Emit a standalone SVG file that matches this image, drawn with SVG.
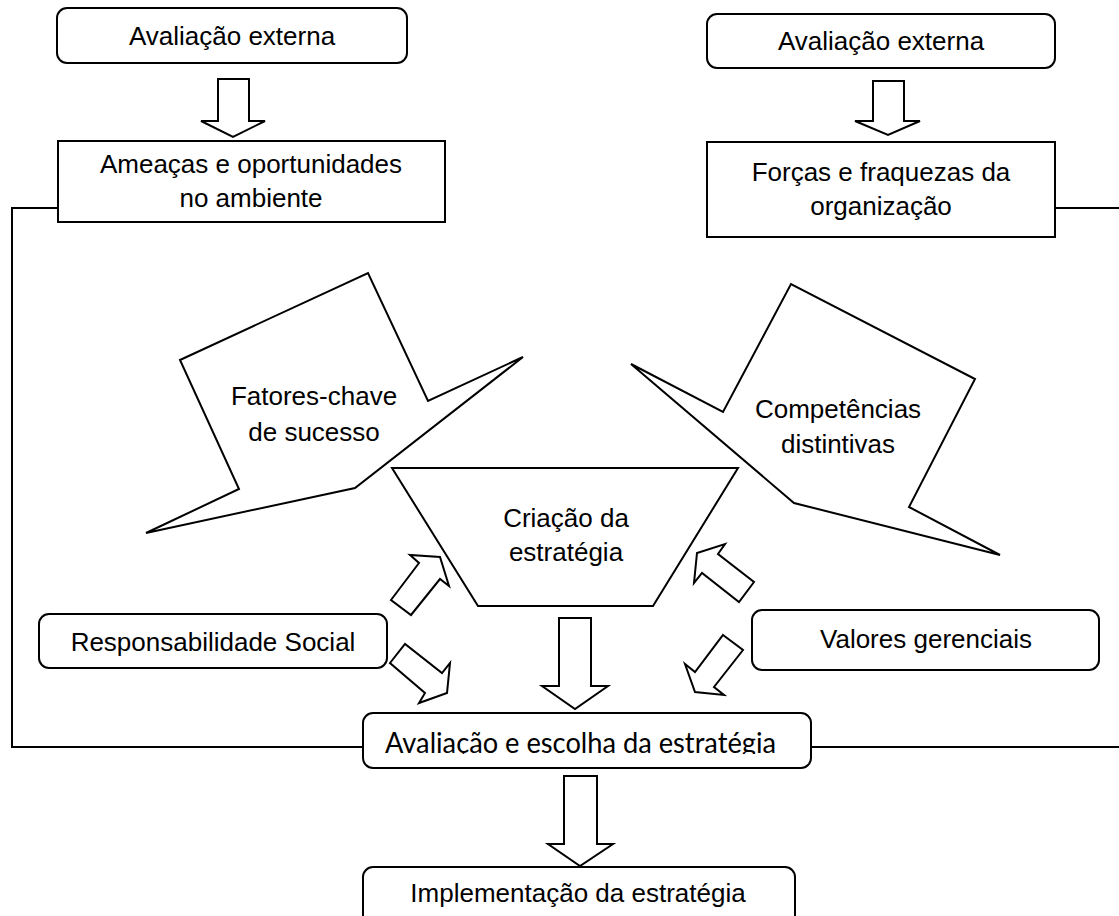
<svg xmlns="http://www.w3.org/2000/svg" width="1119" height="916" viewBox="0 0 1119 916">
<style>
.box{fill:#fff;stroke:#000;stroke-width:2}
.shape{fill:#fff;stroke:#000;stroke-width:2;stroke-linejoin:miter}
.arr{fill:#fff;stroke:#000;stroke-width:2;stroke-linejoin:miter}
.con{fill:none;stroke:#000;stroke-width:2}
.t{font-family:"Liberation Sans",Arial,sans-serif;font-size:26px;text-anchor:middle;fill:#000}
.c{font-family:Lato,"Open Sans",sans-serif;font-size:28px;fill:#000}
</style>
<defs>
<clipPath id="clipEsc"><rect x="363" y="713" width="448" height="41"/></clipPath>
</defs>
<rect width="1119" height="916" fill="#fff"/>
<g id="connectors">
<path class="con" d="M58,208 H12 V747 H363"/>
<path class="con" d="M811,747 H1119"/>
<path class="con" d="M1055,208 H1119"/>
</g>
<g id="aval-ext-left">
<rect class="box" x="57" y="8" width="350" height="55" rx="10"/>
<text class="t" x="232" y="45">Avaliação externa</text>
</g>
<g id="arrow-left-top"><polygon class="arr" points="218,79 249,79 249,121 265,121 233,137 201,121 218,121"/></g>
<g id="ameacas">
<rect class="box" x="58" y="141" width="387" height="81"/>
<text class="t" x="251" y="173">Ameaças e oportunidades</text>
<text class="t" x="251" y="207">no ambiente</text>
</g>
<g id="aval-ext-right">
<rect class="box" x="707" y="14" width="348" height="54" rx="10"/>
<text class="t" x="881" y="50">Avaliação externa</text>
</g>
<g id="arrow-right-top"><polygon class="arr" points="873,81 904,81 904,121 920,121 888,135 855,121 873,121"/></g>
<g id="forcas">
<rect class="box" x="707" y="142" width="348" height="95"/>
<text class="t" x="881" y="181">Forças e fraquezas da</text>
<text class="t" x="881" y="215">organização</text>
</g>
<g id="fatores">
<polygon class="shape" points="180,360 368,273 428,401 523,357 355,488 146,533 239,489"/>
<text class="t" x="314" y="405">Fatores-chave</text>
<text class="t" x="314" y="441">de sucesso</text>
</g>
<g id="competencias">
<polygon class="shape" points="631,364 723,412 791,284 975,379 909,507 1000,555 794,503"/>
<text class="t" x="838" y="418">Competências</text>
<text class="t" x="838" y="453">distintivas</text>
</g>
<g id="criacao">
<polygon class="shape" points="392,468 738,468 653,606 478,606"/>
<text class="t" x="566" y="527">Criação da</text>
<text class="t" x="566" y="561">estratégia</text>
</g>
<g id="arrows-small">
<polygon class="arr" points="391,600 419,563 410,555 440,557 449,586 440,579 411,615"/>
<polygon class="arr" points="390,663 405,644 442,673 450,663 447,693 419,703 425,693"/>
<polygon class="arr" points="754,582 739,602 702,573 694,583 697,553 725,544 718,554"/>
<polygon class="arr" points="723,635 743,650 714,687 724,695 695,692 685,664 695,672"/>
</g>
<g id="responsabilidade">
<rect class="box" x="39" y="614" width="348" height="54" rx="10"/>
<text class="t" x="213" y="651">Responsabilidade Social</text>
</g>
<g id="valores">
<rect class="box" x="752" y="610" width="347" height="60" rx="10"/>
<text class="t" x="926" y="648">Valores gerenciais</text>
</g>
<g id="arrow-center"><polygon class="arr" points="559,618 591,618 591,686 608,686 575,709 542,686 559,686"/></g>
<g id="avaliacao-escolha">
<rect class="box" x="363" y="713" width="448" height="55" rx="10"/>
<text class="c" x="385" y="753" textLength="391" lengthAdjust="spacingAndGlyphs" clip-path="url(#clipEsc)">Avaliação e escolha da estratégia</text>
</g>
<g id="arrow-bottom"><polygon class="arr" points="564,776 597,776 597,844 613,844 580,866 548,844 564,844"/></g>
<g id="implementacao">
<rect class="box" x="363" y="867" width="432" height="80" rx="10"/>
<text class="t" x="578" y="902">Implementação da estratégia</text>
</g>
</svg>
